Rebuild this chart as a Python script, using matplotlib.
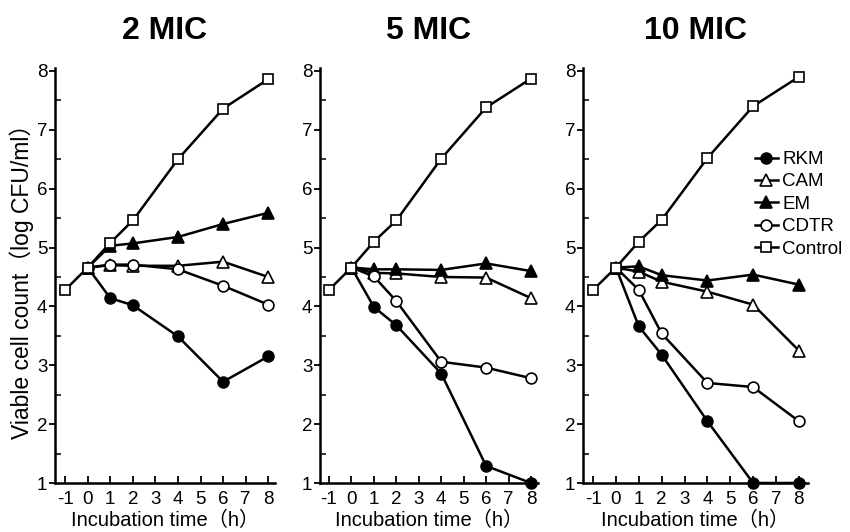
import matplotlib
matplotlib.use("Agg")
import matplotlib.pyplot as plt
from matplotlib.ticker import MultipleLocator

plt.rcParams['font.family'] = ['Liberation Sans', 'Noto Sans CJK JP', 'DejaVu Sans']
plt.rcParams['axes.unicode_minus'] = False

time_h = [-1, 0, 1, 2, 4, 6, 8]
panel_titles = ["2 MIC", "5 MIC", "10 MIC"]
series_names = ["RKM", "CAM", "EM", "CDTR", "Control"]

# 2 MIC
rkm_2 = [None, 4.66, 4.14, 4.02, 3.49, 2.72, 3.15]
cam_2 = [None, 4.66, 4.70, 4.69, 4.69, 4.76, 4.50]
em_2 = [None, 4.66, 5.03, 5.07, 5.18, 5.40, 5.59]
cdtr_2 = [None, 4.66, 4.71, 4.71, 4.63, 4.35, 4.03]
ctrl_2 = [4.28, 4.66, 5.08, 5.46, 6.50, 7.36, 7.86]

# 5 MIC
rkm_5 = [None, 4.66, 3.99, 3.68, 2.86, 1.29, 1.00]
cam_5 = [None, 4.66, 4.57, 4.56, 4.50, 4.49, 4.14]
em_5 = [None, 4.66, 4.63, 4.63, 4.62, 4.73, 4.60]
cdtr_5 = [None, 4.66, 4.51, 4.09, 3.06, 2.96, 2.78]
ctrl_5 = [4.28, 4.66, 5.10, 5.46, 6.51, 7.38, 7.87]

# 10 MIC
rkm_10 = [None, 4.66, 3.66, 3.18, 2.05, 1.00, 1.00]
cam_10 = [None, 4.66, 4.59, 4.42, 4.25, 4.03, 3.25]
em_10 = [None, 4.66, 4.68, 4.53, 4.44, 4.54, 4.37]
cdtr_10 = [None, 4.66, 4.28, 3.54, 2.70, 2.63, 2.05]
ctrl_10 = [4.28, 4.66, 5.10, 5.47, 6.52, 7.40, 7.90]

panel_data = [
    [rkm_2, cam_2, em_2, cdtr_2, ctrl_2],
    [rkm_5, cam_5, em_5, cdtr_5, ctrl_5],
    [rkm_10, cam_10, em_10, cdtr_10, ctrl_10],
]

styles = {
    "RKM": dict(marker='o', mfc='black', ms=7.8),
    "CAM": dict(marker='^', mfc='white', ms=8.4),
    "EM": dict(marker='^', mfc='black', ms=8.4),
    "CDTR": dict(marker='o', mfc='white', ms=7.8),
    "Control": dict(marker='s', mfc='white', ms=7.2),
}

fig = plt.figure(figsize=(8.5, 5.32), dpi=100)
W, H = 850.0, 532.0
ax_px = [(55, 220, -1.45, 8.30), (320, 218, -1.40, 8.31), (583, 225, -1.44, 8.40)]
top_px, bot_px = 68, 483

axes = []
for i, (lx, w, x0, x1) in enumerate(ax_px):
    ax = fig.add_axes([lx / W, 1 - bot_px / H, w / W, (bot_px - top_px) / H])
    axes.append(ax)
    for name, ys in zip(series_names, panel_data[i]):
        xs = [t for t, v in zip(time_h, ys) if v is not None]
        vs = [v for v in ys if v is not None]
        st = styles[name]
        ax.plot(xs, vs, color='black', lw=1.8, marker=st['marker'], ms=st['ms'],
                mfc=st['mfc'], mec='black', mew=1.2, label=name, clip_on=False, zorder=3)
    ax.set_xlim(x0, x1)
    ax.set_ylim(1, 8.05)
    ax.set_xticks(list(range(-1, 9)))
    ax.set_yticks(list(range(1, 9)))
    ax.yaxis.set_minor_locator(MultipleLocator(0.5))
    for s in ['top', 'right']:
        ax.spines[s].set_visible(False)
    for s in ['left', 'bottom']:
        ax.spines[s].set_linewidth(1.8)
    ax.tick_params(axis='x', direction='in', length=5, width=1.3, labelsize=13.5, pad=6)
    ax.tick_params(axis='y', which='major', direction='out', length=4, width=1.3, labelsize=13.5, pad=1.5)
    ax.tick_params(axis='y', which='minor', direction='in', length=4, width=1.1)
    ax.set_title(panel_titles[i], fontsize=23, fontweight='bold', pad=21)
    ax.set_xlabel("Incubation time（h）", fontsize=14.5, labelpad=2)

axes[0].set_ylabel("Viable cell count（log CFU/ml）", fontsize=16.5, labelpad=2)

leg = axes[2].legend(loc='upper left', bbox_to_anchor=(0.765, 0.8), frameon=False,
                     fontsize=13.5, handlelength=1.2, handletextpad=0.25,
                     labelspacing=0.28, borderpad=0, borderaxespad=0)

fig.savefig("out.png", dpi=100)
